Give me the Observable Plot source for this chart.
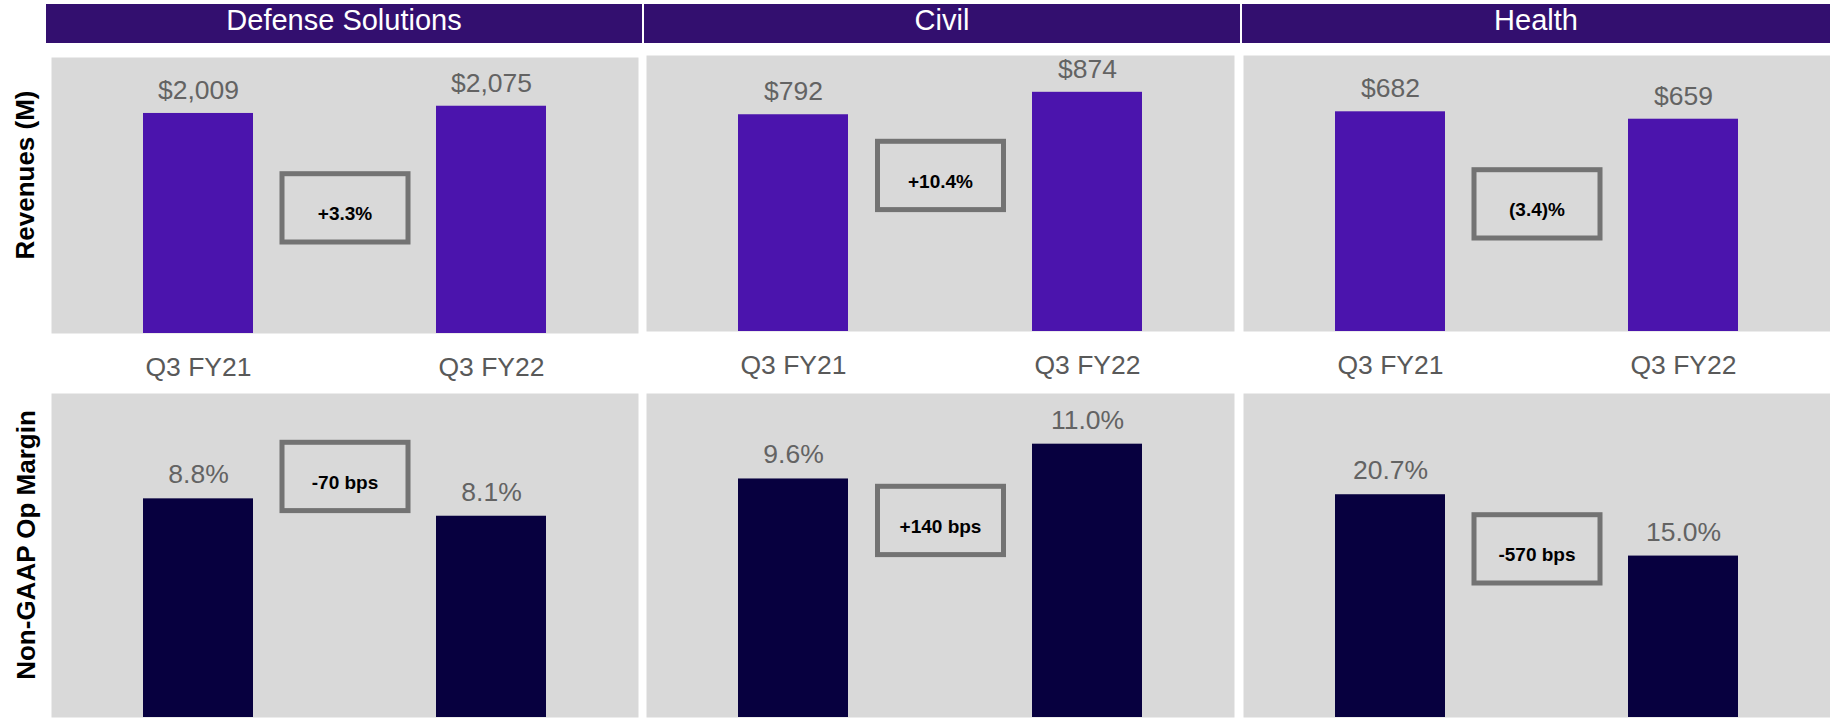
<!DOCTYPE html>
<html><head><meta charset="utf-8">
<script src="https://cdn.jsdelivr.net/npm/d3@7"></script>
<script src="https://cdn.jsdelivr.net/npm/@observablehq/plot@0.6"></script>
<style>
html,body{margin:0;padding:0;background:#fff;}
#root{position:relative;width:1830px;height:719px;overflow:hidden;font-family:"Liberation Sans",Arial,sans-serif;}
.hdr{position:absolute;top:4px;height:39px;background:#330f6f;color:#fff;font-size:29px;line-height:33px;text-align:center;white-space:nowrap;}
.rowtitle{position:absolute;font-weight:bold;color:#000;white-space:nowrap;line-height:1;transform:translate(-50%,-50%) rotate(-90deg);}
.panel{position:absolute;}
.panel svg{display:block;overflow:visible;}
</style></head><body><div id="root"></div>
<script>
// ---- data ----
const segments = ["Defense Solutions", "Civil", "Health"];
const periods = ["Q3 FY21", "Q3 FY22"];
const revenues = [[2009, 2075], [792, 874], [682, 659]];
const margins = [[8.8, 8.1], [9.6, 11.0], [20.7, 15.0]];
const revenueChange = ["+3.3%", "+10.4%", "(3.4)%"];
const marginChange = ["-70 bps", "+140 bps", "-570 bps"];
const rowTitles = ["Revenues (M)", "Non-GAAP Op Margin"];

// ---- layout ----
const FONT = '"Liberation Sans", Arial, sans-serif';
const headers = [{left:46,width:596},{left:644,width:596},{left:1242,width:588}];
const cols = [{left:51,width:587,top:57},{left:646,width:588,top:55},{left:1243,width:587,top:55}];
const topYMax = [2520, 1008.5, 856.8];
const botYMax = [13.08, 13.08, 30.2];
const topBox = [116.2, 85.8, 114.2];
const botBox = [48.8, 92.8, 121.2];
const BOT_TOP = 393, BOT_H = 324, TOP_H = 276;

const root = document.getElementById("root");

segments.forEach((s, i) => {
  const d = document.createElement("div");
  d.className = "hdr";
  d.style.left = headers[i].left + "px";
  d.style.width = headers[i].width + "px";
  d.textContent = s;
  root.appendChild(d);
});

const titlePos = [{x:25, y:175, size:26}, {x:25.5, y:545, size:26}];
rowTitles.forEach((t, i) => {
  const d = document.createElement("div");
  d.className = "rowtitle";
  d.style.left = titlePos[i].x + "px";
  d.style.top = titlePos[i].y + "px";
  d.style.fontSize = titlePos[i].size + "px";
  d.textContent = t;
  root.appendChild(d);
});

function panel(values, labels, change, o) {
  const data = periods.map((p, i) => ({period: p, value: values[i], label: labels[i]}));
  const W = o.width, H = o.frameH, bw = 126, bh = 68.3;
  return Plot.plot({
    width: W, height: H + o.mb,
    marginTop: 0, marginLeft: 0, marginRight: 0, marginBottom: o.mb,
    style: {background: "transparent", fontFamily: FONT, overflow: "visible"},
    x: {domain: periods, paddingInner: 0.625, paddingOuter: 0.3125, axis: null},
    y: {domain: [0, o.yMax], axis: null},
    marks: [
      Plot.frame({fill: "#d9d9d9", stroke: "none"}),
      Plot.barY(data, {x: "period", y: "value", fill: o.color}),
      Plot.text(data, {x: "period", y: "value", text: "label", dy: -o.gap, lineAnchor: "bottom", fontSize: 26.5, fill: "#636363"}),
      Plot.frame({stroke: "#737373", strokeWidth: 5, fill: "none",
        insetLeft: (W - bw) / 2, insetRight: (W - bw) / 2,
        insetTop: o.boxTop, insetBottom: H - o.boxTop - bh}),
      Plot.text([change], {text: d => d, frameAnchor: "top", dy: o.boxTop + bh / 2 - 1,
        fontSize: 19, fontWeight: "bold", fill: "#000"}),
      o.axis ? Plot.axisX({tickSize: 0, tickPadding: 23.5, fontSize: 26.5, color: "#595959", label: null}) : null
    ]
  });
}

cols.forEach((c, i) => {
  const top = document.createElement("div");
  top.className = "panel";
  top.style.left = c.left + "px";
  top.style.top = c.top + "px";
  top.appendChild(panel(revenues[i], revenues[i].map(v => "$" + d3.format(",")(v)), revenueChange[i],
    {width: c.width, frameH: TOP_H, mb: 60, yMax: topYMax[i], color: "#4b14ad", gap: 14.5, boxTop: topBox[i], axis: true}));
  root.appendChild(top);

  const bot = document.createElement("div");
  bot.className = "panel";
  bot.style.left = c.left + "px";
  bot.style.top = BOT_TOP + "px";
  bot.appendChild(panel(margins[i], margins[i].map(v => v.toFixed(1) + "%"), marginChange[i],
    {width: c.width, frameH: BOT_H, mb: 0, yMax: botYMax[i] * BOT_H / 325, color: "#07003f", gap: 15.5, boxTop: botBox[i], axis: false}));
  root.appendChild(bot);
});
</script></body></html>
